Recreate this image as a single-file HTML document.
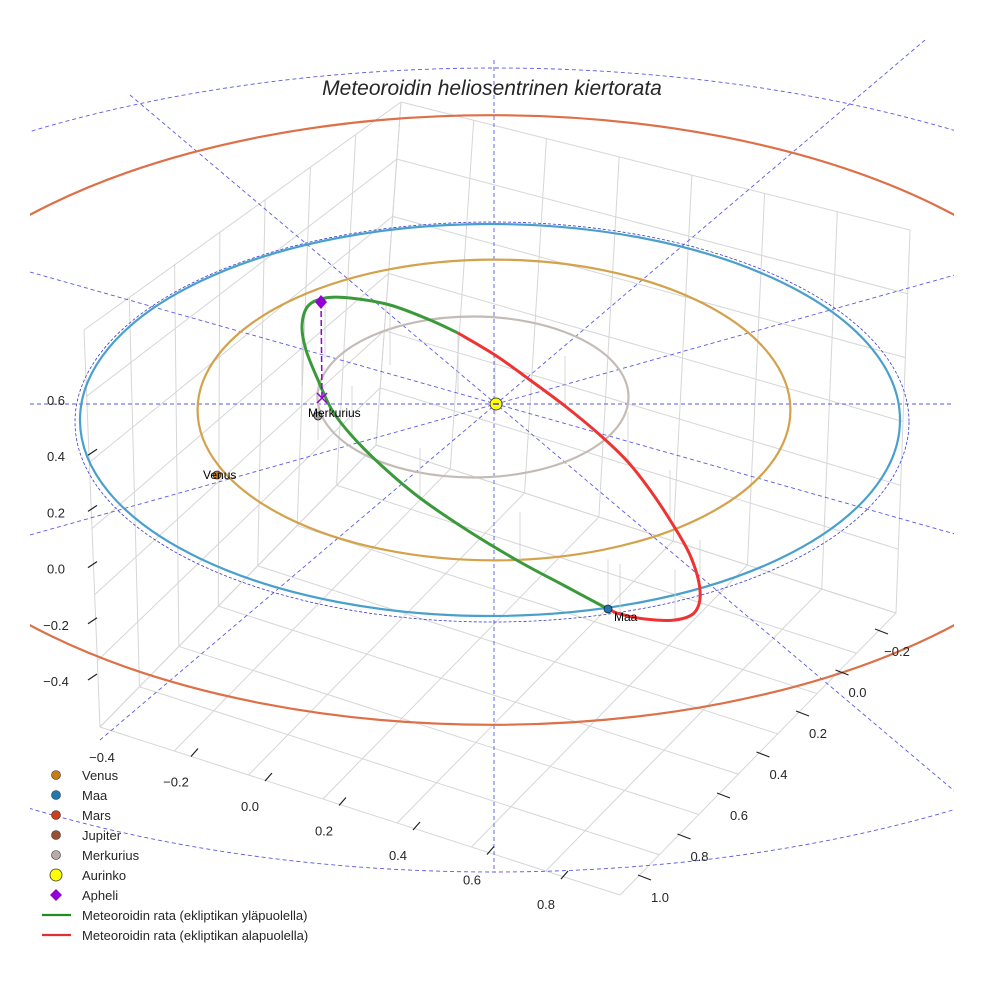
<!DOCTYPE html>
<html><head><meta charset="utf-8"><style>
html,body{margin:0;padding:0;background:#fff}
svg{display:block;font-family:"Liberation Sans",sans-serif}
</style></head><body>
<svg id="c" width="984" height="984" viewBox="0 0 984 984" xmlns="http://www.w3.org/2000/svg">
<defs><clipPath id="clip"><rect x="30" y="40" width="924" height="900"/></clipPath></defs>
<g id="grid"></g>
<g id="dash" clip-path="url(#clip)"></g>
<g id="orbits" clip-path="url(#clip)"></g>
<g id="met"></g>
<g id="ticks"></g>
<text x="492" y="95" text-anchor="middle" font-size="21" font-style="italic" fill="#262626">Meteoroidin heliosentrinen kiertorata</text>
<g id="legend"></g>
</svg>
<script>
const NS="http://www.w3.org/2000/svg";
const zTicks=["0.6","0.4","0.2","0.0","−0.2","−0.4"];
const xTicks=["−0.4","−0.2","0.0","0.2","0.4","0.6","0.8"];
const yTicks=["−0.2","0.0","0.2","0.4","0.6","0.8","1.0"];
const planetNames=["Merkurius","Venus","Maa","Mars"];
const planetRadii=[0.387,0.723,1.0,1.524];
const planetColors=["#c4bbb6","#d4a24c","#4aa0cc","#dd7048"];
const greenPts=[[608,609],[565,586],[520,562],[470,532],[420,498],[382,466],[352,436],[332,410],[318,380],[306,350],[302,326],[308,306],[325,298],[350,298],[390,305],[430,320],[458,333]];
const redPts=[[458,333],[495,355],[530,380],[565,406],[600,435],[628,462],[650,490],[670,520],[690,555],[700,590],[695,612],[675,620],[645,619],[620,614],[608,609]];
const legendLabels=["Venus","Maa","Mars","Jupiter","Merkurius","Aurinko","Apheli","Meteoroidin rata (ekliptikan yläpuolella)","Meteoroidin rata (ekliptikan alapuolella)"];
const legendColors=["#c77c16","#1f77b4","#c9401a","#9a5030","#b8aaa6","#ffff00","#9400d3","#228b22","#e03030"];
const SUN=[496,404], SX=410, SY=200;
function mk(t,a,p){const e=document.createElementNS(NS,t);for(const k in a)e.setAttribute(k,a[k]);(p||document.getElementById('c')).appendChild(e);return e;}
function lerp(a,b,t){return [a[0]+(b[0]-a[0])*t,a[1]+(b[1]-a[1])*t];}
const G=document.getElementById('grid');
const A=[100,727],B=[620,895],C=[896,613],D=[376,445],At=[84,330],Dt=[401,102],Ct=[910,230];
function gl(p,q){const l=mk('line',{x1:p[0],y1:p[1],x2:q[0],y2:q[1],stroke:'#d6d6d6','stroke-width':1},G);}
for(let i=0;i<=7;i++){const t=i/7;gl(lerp(A,B,t),lerp(D,C,t));}
for(let i=0;i<=7;i++){const t=i/7;gl(lerp(A,D,t),lerp(B,C,t));}
for(let i=0;i<=7;i++){const t=i/7;const b=lerp(A,D,t),tp=lerp(At,Dt,t);gl(b,tp);}
for(let i=0;i<=7;i++){const t=i/7;const b=lerp(D,C,t),tp=lerp(Dt,Ct,t);gl(b,tp);}
for(let i=0;i<=6;i++){const t=i/6;gl(lerp(A,At,t),lerp(D,Dt,t));gl(lerp(D,Dt,t),lerp(C,Ct,t));}
const DS=document.getElementById('dash');
function dl(x1,y1,x2,y2){const l=mk('line',{x1,y1,x2,y2,stroke:'#5a5ae6','stroke-width':0.9,'stroke-dasharray':'4,3'},DS);}
dl(30,404,954,404);dl(494,60,494,872);
const angs=[[130,95],[30,272],[30,535],[100,740]];
angs.forEach(p=>{const dx=SUN[0]-p[0],dy=SUN[1]-p[1];dl(p[0],p[1],SUN[0]+dx*1.3,SUN[1]+dy*1.3);});
const oe=mk('ellipse',{cx:494,cy:470,rx:860,ry:402,fill:'none',stroke:'#5a5ae6','stroke-width':0.9,'stroke-dasharray':'4,3'},DS);

const ie=mk('ellipse',{cx:492,cy:422,rx:417,ry:200,fill:'none',stroke:'#3a3ad0','stroke-width':0.8,'stroke-dasharray':'3,2'},DS);

const cxOff=[-23,-2,-6,-4], cyOff=[-7,6,16,16], ryScale=[1.04,1.04,0.98,1.0];
const O=document.getElementById('orbits');
planetRadii.forEach((r,i)=>{const e=mk('ellipse',{cx:SUN[0]+cxOff[i],cy:SUN[1]+cyOff[i],rx:r*SX*(i==0?0.98:1),ry:r*SY*ryScale[i],fill:'none',stroke:planetColors[i],'stroke-width':2.2},O);
});
const M=document.getElementById('met');
function path(pts){let d='M'+pts[0][0]+','+pts[0][1];for(let i=0;i<pts.length-1;i++){const p0=pts[Math.max(0,i-1)],p1=pts[i],p2=pts[i+1],p3=pts[Math.min(pts.length-1,i+2)];
d+=' C'+(p1[0]+(p2[0]-p0[0])/6)+','+(p1[1]+(p2[1]-p0[1])/6)+' '+(p2[0]-(p3[0]-p1[0])/6)+','+(p2[1]-(p3[1]-p1[1])/6)+' '+p2[0]+','+p2[1];}return d;}
greenPts.concat(redPts).forEach((p,i)=>{if(i%2)return;const l=mk('line',{x1:p[0],y1:p[1],x2:p[0],y2:p[1]+(p[1]<400?60:-50),stroke:'#cfcfcf','stroke-width':0.8},M);});
const gp=mk('path',{d:path(greenPts),fill:'none',stroke:'#3a9a3a','stroke-width':3},M);
const rp=mk('path',{d:path(redPts),fill:'none',stroke:'#ee3333','stroke-width':3},M);
const ap=mk('line',{x1:321,y1:302,x2:322,y2:398,stroke:'#9400d3','stroke-width':1.5,'stroke-dasharray':'6,3'},M);
const ax=mk('path',{d:'M317,393 L327,403 M327,393 L317,403',stroke:'#9400d3','stroke-width':1.5},M);
const ad=mk('path',{d:'M321,295 L327,302 L321,309 L315,302 Z',fill:'#9400d3'},M);
function dot(x,y,r,f,n,lab){const c=mk('circle',{cx:x,cy:y,r,fill:f,stroke:'#222','stroke-width':0.8},M);
if(lab){const t=mk('text',{x:x+(lab[1]||0),y:y+(lab[2]||0),'font-size':12,fill:'#000'},M);t.textContent=lab[0];}}
dot(318,416,4,'#a9a09c','mercury-point',['Merkurius',-10,1]);
dot(217,475,4,'#c77c16','venus-point',['Venus',-14,4]);
dot(608,609,4,'#1f77b4','earth-point',['Maa',6,12]);
dot(496,404,6,'#ffff00','sun-point');
const sm=mk('line',{x1:493,y1:404,x2:499,y2:404,stroke:'#4040c0','stroke-width':1.5},M);
const T=document.getElementById('ticks');
function tl(x1,y1,x2,y2){const l=mk('line',{x1,y1,x2,y2,stroke:'#222','stroke-width':1.2},T);}
function tt(x,y,s,n){const t=mk('text',{x,y,'font-size':13,fill:'#262626','text-anchor':'middle'},T);t.textContent=s;}
zTicks.forEach((s,i)=>{const y=400+i*56.2;tt(56,y+5,s,'z-tick-label');if(i>0)tl(88,y-1,97,y-7);});
xTicks.forEach((s,i)=>{const x=102+i*74,y=757+i*24.5;tt(x,y+5,s,'x-tick-label');if(i>0)tl(x+15,y-25,x+22,y-33);});
yTicks.forEach((s,i)=>{const x=897-i*39.5,y=651+i*41;tt(x,y+5,s,'y-tick-label');tl(x-22,y-22,x-9,y-17);});
const L=document.getElementById('legend');
legendLabels.forEach((s,i)=>{const y=775+i*20;let m;
if(i<5)m=mk('circle',{cx:56,cy:y,r:4.5,fill:legendColors[i],stroke:'#333','stroke-width':0.6},L);
else if(i==5)m=mk('circle',{cx:56,cy:y,r:6,fill:legendColors[i],stroke:'#333','stroke-width':0.8},L);
else if(i==6)m=mk('path',{d:`M56,${y-6} L62,${y} L56,${y+6} L50,${y} Z`,fill:legendColors[i]},L);
else m=mk('line',{x1:42,y1:y,x2:71,y2:y,stroke:legendColors[i],'stroke-width':2.2},L);

const t=mk('text',{x:82,y:y+5,'font-size':13,fill:'#262626'},L);t.textContent=s;
});
</script>
</body></html>
